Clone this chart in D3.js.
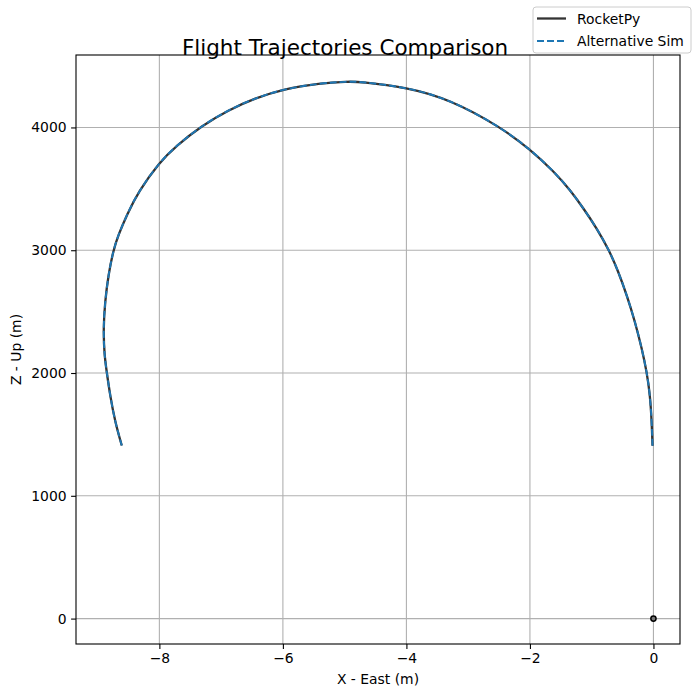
<!DOCTYPE html>
<html>
<head>
<meta charset="utf-8">
<script src="https://cdn.jsdelivr.net/npm/d3@7"></script>
<style>
  body { margin: 0; background: #fff; }
  svg { font-family: "DejaVu Sans", sans-serif; }
</style>
</head>
<body>
<svg id="chart" width="698" height="698"></svg>
<script>
// trajectory (x east in m, z up in m)
const rocketX = [-0.015, -0.028, -0.055, -0.108, -0.189, -0.298, -0.432, -0.568, -0.719, -0.918, -1.135, -1.35, -1.601, -2.003, -2.484, -3.293, -3.995, -4.751, -4.95, -5.398, -5.993, -6.451, -6.883, -7.314, -7.73, -8.0, -8.34, -8.528, -8.664, -8.745, -8.826, -8.88, -8.907, -8.891, -8.852, -8.799, -8.718, -8.609];
const rocketZ = [1408, 1604, 1821, 2008, 2201, 2418, 2635, 2825, 3002, 3179, 3342, 3491, 3636, 3825, 4006, 4228, 4327, 4373, 4374, 4360, 4313, 4238, 4142, 4014, 3849, 3716, 3477, 3287, 3124, 3002, 2798, 2581, 2364, 2147, 2008, 1821, 1604, 1410];

const altX = [-0.015, -0.028, -0.055, -0.108, -0.189, -0.298, -0.432, -0.568, -0.719, -0.918, -1.135, -1.35, -1.601, -2.003, -2.484, -3.293, -3.995, -4.751, -4.95, -5.398, -5.993, -6.451, -6.883, -7.314, -7.73, -8.0, -8.34, -8.528, -8.664, -8.745, -8.826, -8.88, -8.907, -8.891, -8.852, -8.799, -8.718, -8.609];
const altZ = [1408, 1604, 1821, 2008, 2201, 2418, 2635, 2825, 3002, 3179, 3342, 3491, 3636, 3825, 4006, 4228, 4327, 4373, 4374, 4360, 4313, 4238, 4142, 4014, 3849, 3716, 3477, 3287, 3124, 3002, 2798, 2581, 2364, 2147, 2008, 1821, 1604, 1410];

const launchPoint = [0, 0];

const xTicks = [-8, -6, -4, -2, 0];
const yTicks = [0, 1000, 2000, 3000, 4000];
const xLimits = [-9.35, 0.43];
const yLimits = [-207, 4590];

const legendNames = ["RocketPy", "Alternative Sim"];

// layout of the axes box
const svg = d3.select("#chart");
const axLeft = 76, axRight = 680, axTop = 55, axBottom = 644;

const x = d3.scaleLinear().domain(xLimits).range([axLeft, axRight]);
const y = d3.scaleLinear().domain(yLimits).range([axBottom, axTop]);

const minus = d => d3.format("")(d).replace("-", "\u2212");

// grid
svg.append("g").selectAll("line")
  .data(xTicks).enter().append("line")
  .attr("x1", d => x(d)).attr("x2", d => x(d))
  .attr("y1", axTop).attr("y2", axBottom)
  .attr("stroke", "#b0b0b0").attr("stroke-width", 1.1);
svg.append("g").selectAll("line")
  .data(yTicks).enter().append("line")
  .attr("y1", d => y(d)).attr("y2", d => y(d))
  .attr("x1", axLeft).attr("x2", axRight)
  .attr("stroke", "#b0b0b0").attr("stroke-width", 1.1);

// lines (smoothed through the read points)
const line = d3.line()
  .x(d => x(d[0])).y(d => y(d[1]))
  .curve(d3.curveBasis);

svg.append("path")
  .datum(d3.zip(rocketX, rocketZ))
  .attr("d", line)
  .attr("fill", "none")
  .attr("stroke", "#333333")
  .attr("stroke-width", 2.3);

svg.append("path")
  .datum(d3.zip(altX, altZ))
  .attr("d", line)
  .attr("fill", "none")
  .attr("stroke", "#1f77b4")
  .attr("stroke-width", 1.9)
  .attr("stroke-dasharray", "7,3");

// launch marker
svg.append("circle")
  .attr("cx", x(launchPoint[0])).attr("cy", y(launchPoint[1]))
  .attr("r", 2.6)
  .attr("fill", "#777")
  .attr("stroke", "#000").attr("stroke-width", 1.5);

// axes
const xAxis = d3.axisBottom(x).tickValues(xTicks).tickFormat(minus).tickSize(4.9).tickPadding(4.5);
const yAxis = d3.axisLeft(y).tickValues(yTicks).tickFormat(d3.format("d")).tickSize(4.9).tickPadding(4.5);

const gx = svg.append("g").attr("transform", `translate(0,${axBottom})`).call(xAxis);
const gy = svg.append("g").attr("transform", `translate(${axLeft},0)`).call(yAxis);
[gx, gy].forEach(g => {
  g.select(".domain").remove();
  g.selectAll(".tick line").attr("stroke", "#000").attr("stroke-width", 1.1);
  g.selectAll(".tick text").attr("fill", "#000").style("font-size", "13.9px")
    .style("font-family", "DejaVu Sans, sans-serif");
});

// frame
svg.append("rect")
  .attr("x", axLeft).attr("y", axTop)
  .attr("width", axRight - axLeft).attr("height", axBottom - axTop)
  .attr("fill", "none").attr("stroke", "#000").attr("stroke-width", 1.1);

// labels
svg.append("text")
  .attr("x", (axLeft + axRight) / 2).attr("y", 684)
  .attr("text-anchor", "middle").style("font-size", "13.9px")
  .text("X - East (m)");
svg.append("text")
  .attr("transform", `translate(21,${(axTop + axBottom) / 2}) rotate(-90)`)
  .attr("text-anchor", "middle").style("font-size", "13.9px")
  .text("Z - Up (m)");

svg.append("text")
  .attr("x", 345).attr("y", 55)
  .attr("text-anchor", "middle").style("font-size", "21.5px")
  .text("Flight Trajectories Comparison");

// legend
const lg = svg.append("g");
lg.append("rect")
  .attr("x", 533).attr("y", 7).attr("width", 158).attr("height", 46)
  .attr("rx", 3).attr("fill", "#fff").attr("fill-opacity", 0.8)
  .attr("stroke", "#cccccc").attr("stroke-width", 1);
const legendStyle = [
  { color: "#333333", width: 2.3, dash: null },
  { color: "#1f77b4", width: 1.9, dash: "7,3" }
];
legendNames.forEach((name, i) => {
  const yy = 18.5 + i * 22.5;
  lg.append("line")
    .attr("x1", 537).attr("x2", 566).attr("y1", yy).attr("y2", yy)
    .attr("stroke", legendStyle[i].color)
    .attr("stroke-width", legendStyle[i].width)
    .attr("stroke-dasharray", legendStyle[i].dash);
  lg.append("text")
    .attr("x", 577).attr("y", yy + 5)
    .style("font-size", "13.9px")
    .text(name);
});
</script>
</body>
</html>
